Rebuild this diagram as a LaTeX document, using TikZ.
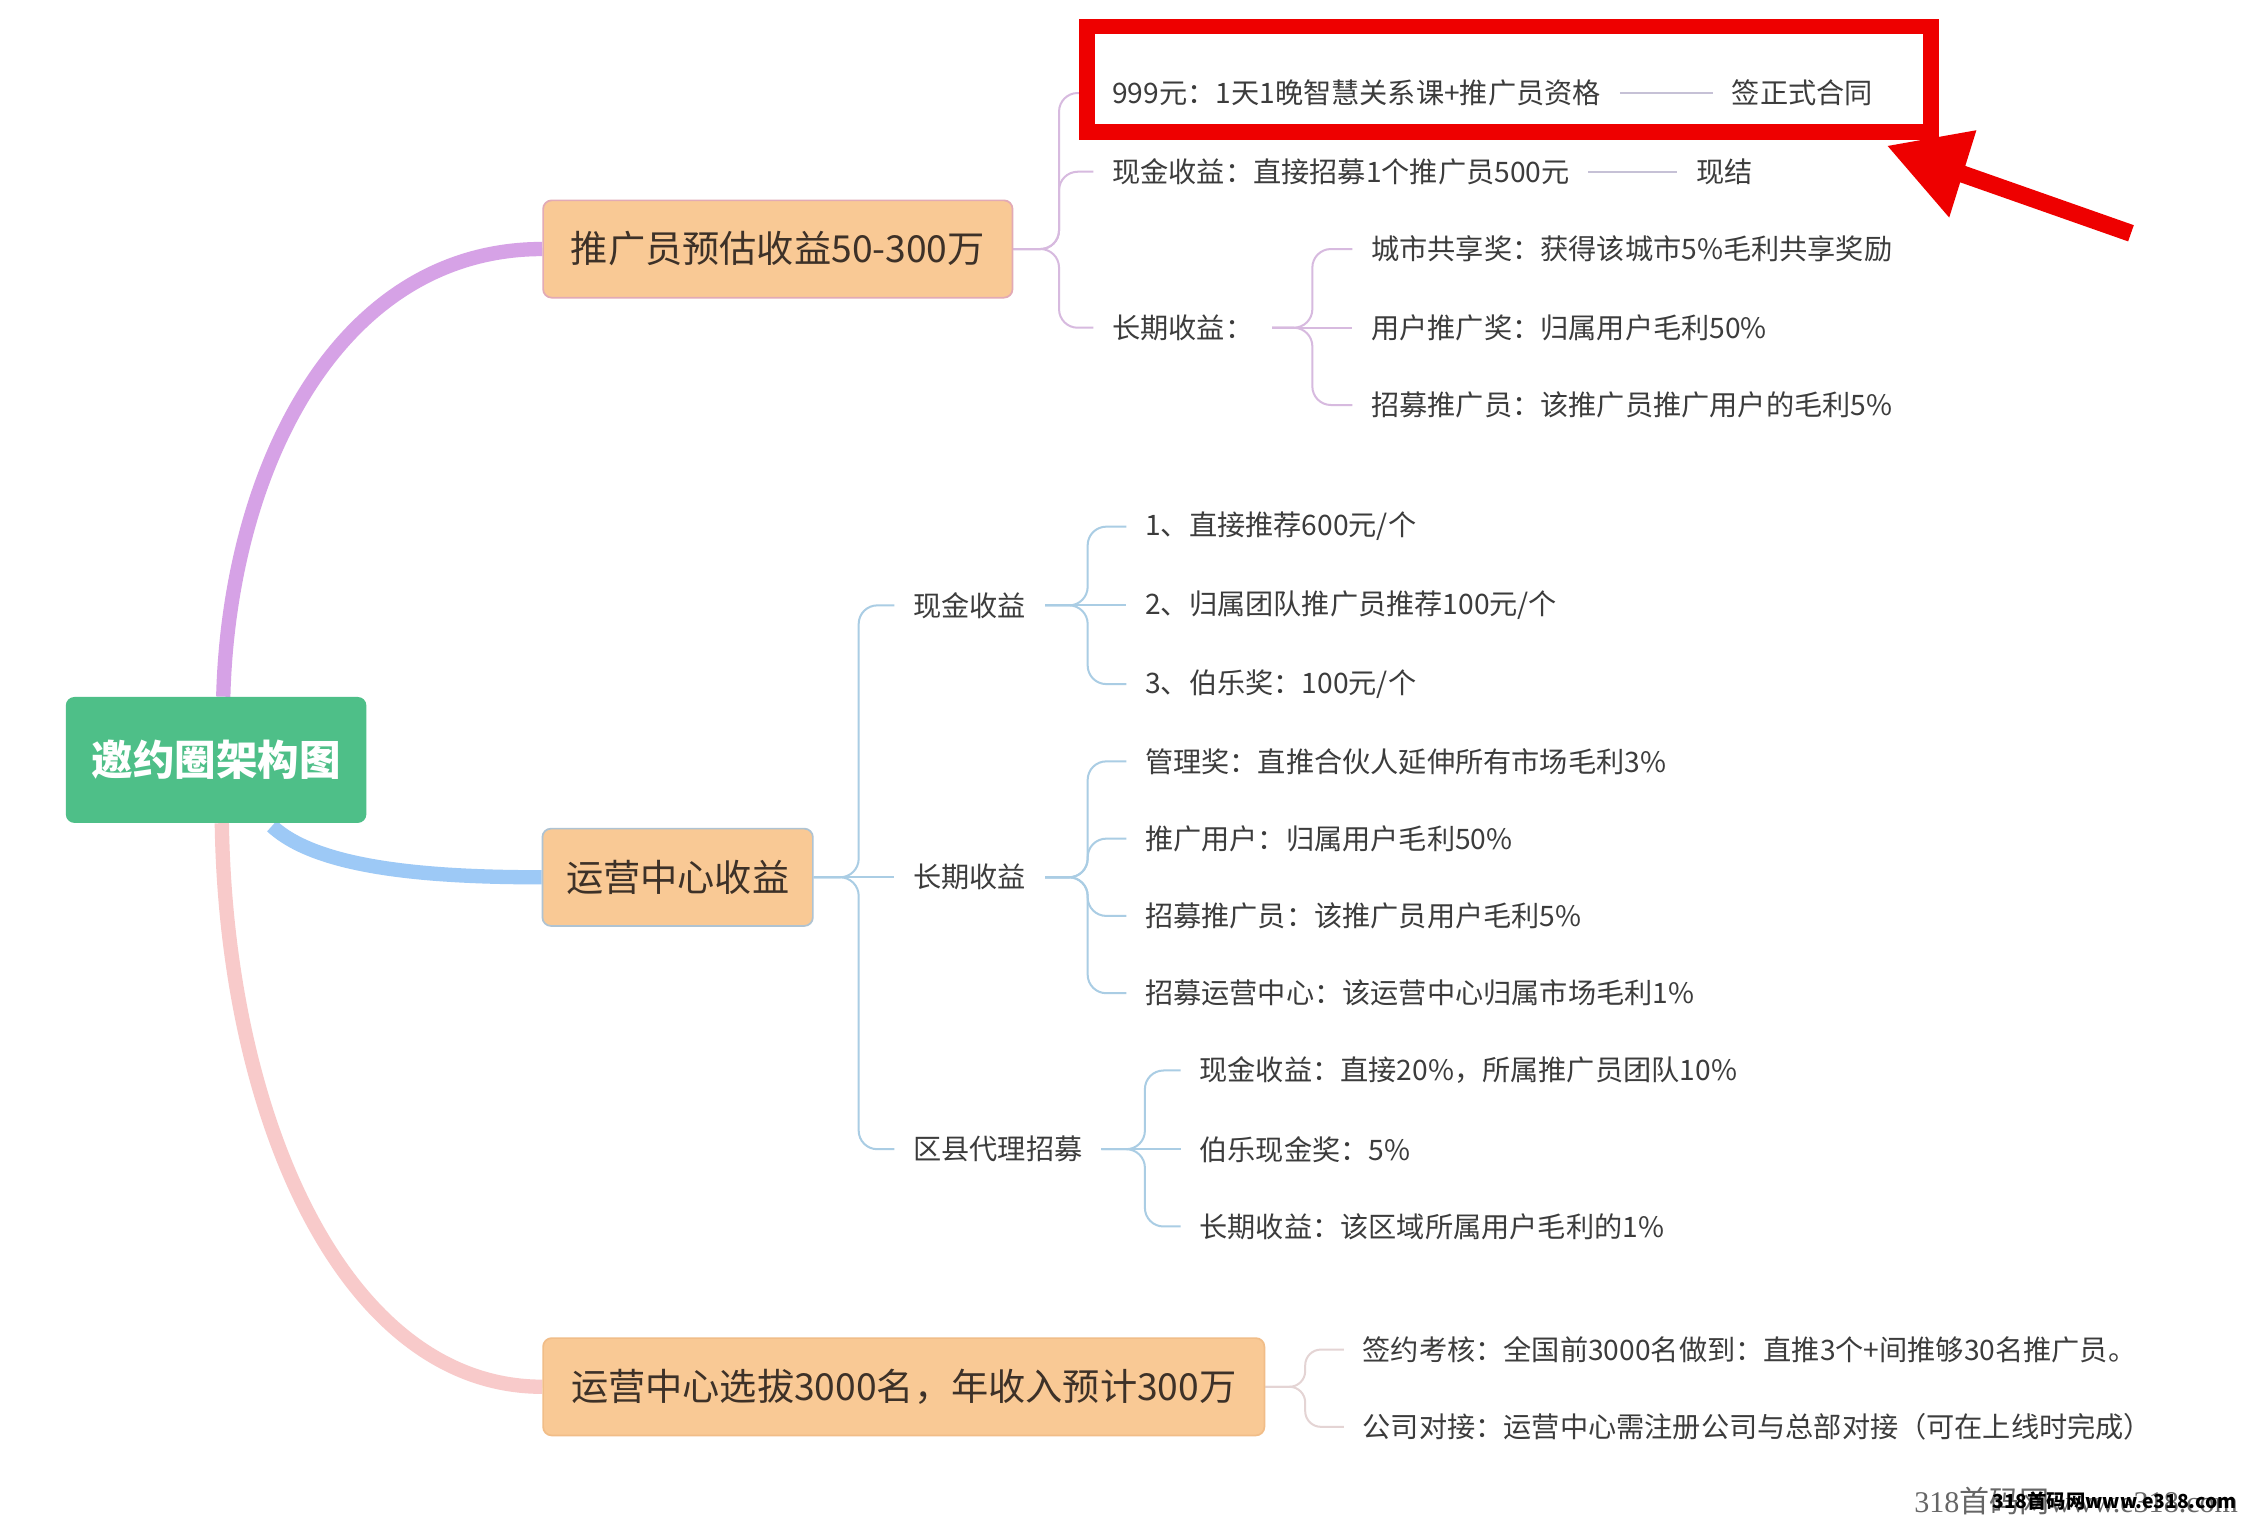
\documentclass[tikz,border=0pt]{standalone}
\usepackage{fontspec}
\setmainfont{Noto Sans CJK SC}
\newfontfamily\wmserif{Liberation Serif}
\usetikzlibrary{backgrounds}
\definecolor{rootgreen}{HTML}{4EBF88}
\definecolor{peach}{HTML}{F9C995}
\definecolor{purpthick}{HTML}{D6A2E6}
\definecolor{bluethick}{HTML}{9DC9F6}
\definecolor{pinkthick}{HTML}{F8CACA}
\definecolor{purpthin}{HTML}{D7BADF}
\definecolor{bluethin}{HTML}{AACDE4}
\definecolor{pinkthin}{HTML}{E4D4D4}
\definecolor{sepline}{HTML}{C6C1D6}
\definecolor{topictext}{HTML}{3D3128}
\definecolor{leaftext}{HTML}{3C3C3C}
\definecolor{annred}{HTML}{EE0000}
\definecolor{tonebord}{HTML}{E2AAB6}
\definecolor{ttwobord}{HTML}{AFC3D2}
\definecolor{tthreebord}{HTML}{F1BD88}
\tikzset{
  rootbox/.style={fill=rootgreen, rounded corners=6pt, text=white,
    font=\bfseries\fontsize{29}{34}\selectfont, minimum width=210pt,
    minimum height=88pt, inner sep=0pt},
  topic/.style={fill=peach, rounded corners=6pt, line width=1.2pt,
    text=topictext, font=\fontsize{26}{31}\selectfont,
    minimum height=68pt, inner sep=0pt},
  leaf/.style={anchor=west, inner xsep=13pt, inner ysep=2pt, text=leaftext,
    font=\fontsize{19.7}{23}\selectfont},
  thickbranch/.style={line width=10pt},
  pthin/.style={draw=purpthin, line width=1.4pt, rounded corners=13pt},
  bthin/.style={draw=bluethin, line width=1.4pt, rounded corners=13pt},
  rthin/.style={draw=pinkthin, line width=1.4pt, rounded corners=11pt},
  sepl/.style={draw=sepline, line width=1.6pt},
}
\begin{document}
\begin{tikzpicture}[x=1pt,y=-1pt]
\useasboundingbox (0,0) rectangle (1568,1063);

% root and main topics
\node[rootbox] (root) at (151,531) {邀约圈架构图};
\node[topic, draw=tonebord, minimum width=328pt] (t1) at (543.5,174) {推广员预估收益50-300万};
\node[topic, draw=ttwobord, minimum width=189pt] (t2) at (473.5,613) {运营中心收益};
\node[topic, draw=tthreebord, minimum width=504pt] (t3) at (631.5,969) {运营中心选拔3000名，年收入预计300万};

% purple branch leaves
\node[leaf] (p1) at (764,65) {999元：1天1晚智慧关系课+推广员资格};
\node[leaf] (p1b) at (1197,65) {签正式合同};
\node[leaf] (p2) at (764,120) {现金收益：直接招募1个推广员500元};
\node[leaf] (p2b) at (1172,120) {现结};
\node[leaf] (p3) at (764,229) {长期收益：};
\node[leaf] (p31) at (945,174) {城市共享奖：获得该城市5\%毛利共享奖励};
\node[leaf] (p32) at (945,229) {用户推广奖：归属用户毛利50\%};
\node[leaf] (p33) at (945,283) {招募推广员：该推广员推广用户的毛利5\%};

% blue branch leaves
\node[leaf] (b1) at (625,423) {现金收益};
\node[leaf] (b2) at (625,613) {长期收益};
\node[leaf] (b3) at (625,803) {区县代理招募};
\node[leaf] (b11) at (787,368) {1、直接推荐600元/个};
\node[leaf] (b12) at (787,423) {2、归属团队推广员推荐100元/个};
\node[leaf] (b13) at (787,478) {3、伯乐奖：100元/个};
\node[leaf] (b21) at (787,532) {管理奖：直推合伙人延伸所有市场毛利3\%};
\node[leaf] (b22) at (787,586) {推广用户：归属用户毛利50\%};
\node[leaf] (b23) at (787,640) {招募推广员：该推广员用户毛利5\%};
\node[leaf] (b24) at (787,694) {招募运营中心：该运营中心归属市场毛利1\%};
\node[leaf] (b31) at (825,748) {现金收益：直接20\%，所属推广员团队10\%};
\node[leaf] (b32) at (825,803) {伯乐现金奖：5\%};
\node[leaf] (b33) at (825,857) {长期收益：该区域所属用户毛利的1\%};

% pink branch leaves
\node[leaf] (r1) at (939,943) {签约考核：全国前3000名做到：直推3个+间推够30名推广员。};
\node[leaf] (r2) at (939,997) {公司对接：运营中心需注册公司与总部对接（可在上线时完成）};

% fork points
\coordinate (f1) at (740,174);
\coordinate (f3) at (917,229);
\coordinate (fb) at (600,613);
\coordinate (fb1) at (760,423);
\coordinate (fb2) at (760,613);
\coordinate (fb3) at (800,803);
\coordinate (fr) at (912,969);

\begin{pgfonlayer}{background}
\fill[white] (0,0) rectangle (1568,1063);
% thick main branches
\draw[thickbranch, draw=purpthick] ([xshift=5pt]root.north) .. controls (160,330) and (235,174) .. (t1.west);
\draw[thickbranch, draw=bluethick] ([xshift=39pt,yshift=-2pt]root.south) .. controls (222,607) and (300,613) .. (t2.west);
\draw[thickbranch, draw=pinkthick] ([xshift=4pt]root.south) .. controls (158,780) and (240,969) .. (t3.west);

% purple thin
\draw[pthin] (t1.east) -- (f1) |- (p1.west);
\draw[pthin] (t1.east) -- (f1) |- (p2.west);
\draw[pthin] (t1.east) -- (f1) |- (p3.west);
\draw[sepl] (p1.east) -- (p1b.west);
\draw[sepl] (p2.east) -- (p2b.west);
\draw[pthin] (p3.east) -- (f3) |- (p31.west);
\draw[pthin] (p3.east) -- (p32.west);
\draw[pthin] (p3.east) -- (f3) |- (p33.west);

% blue thin
\draw[bthin] (t2.east) -- (fb) |- (b1.west);
\draw[bthin] (t2.east) -- (b2.west);
\draw[bthin] (t2.east) -- (fb) |- (b3.west);
\draw[bthin] (b1.east) -- (fb1) |- (b11.west);
\draw[bthin] (b1.east) -- (b12.west);
\draw[bthin] (b1.east) -- (fb1) |- (b13.west);
\draw[bthin] (b2.east) -- (fb2) |- (b21.west);
\draw[bthin] (b2.east) -- (fb2) |- (b22.west);
\draw[bthin] (b2.east) -- (fb2) |- (b23.west);
\draw[bthin] (b2.east) -- (fb2) |- (b24.west);
\draw[bthin] (b3.east) -- (fb3) |- (b31.west);
\draw[bthin] (b3.east) -- (b32.west);
\draw[bthin] (b3.east) -- (fb3) |- (b33.west);

% pink thin
\draw[rthin] (t3.east) -- (fr) |- (r1.west);
\draw[rthin] (t3.east) -- (fr) |- (r2.west);
\end{pgfonlayer}

% red annotation box and arrow
\draw[annred, line width=11pt] (759.5,18.5) rectangle (1349.5,92);
\coordinate (atail) at (1489,163);
\coordinate (abase) at (1371,121.5);
\draw[annred, line width=12pt] (atail) -- (abase);
\fill[annred] (1319,102) -- (1381,91) -- (1362,152) -- cycle;

% watermark
\node[anchor=east, inner sep=0pt, text=black!60, font=\fontsize{21}{25}\selectfont] (wm1) at (1564,1049) {{\wmserif 318}首码网{\wmserif www.e318.com}};
\node[anchor=east, inner sep=0pt, text=black, font=\bfseries\fontsize{13.5}{16}\selectfont] (wm2) at (1563,1049) {318首码网www.e318.com};
\end{tikzpicture}
\end{document}
